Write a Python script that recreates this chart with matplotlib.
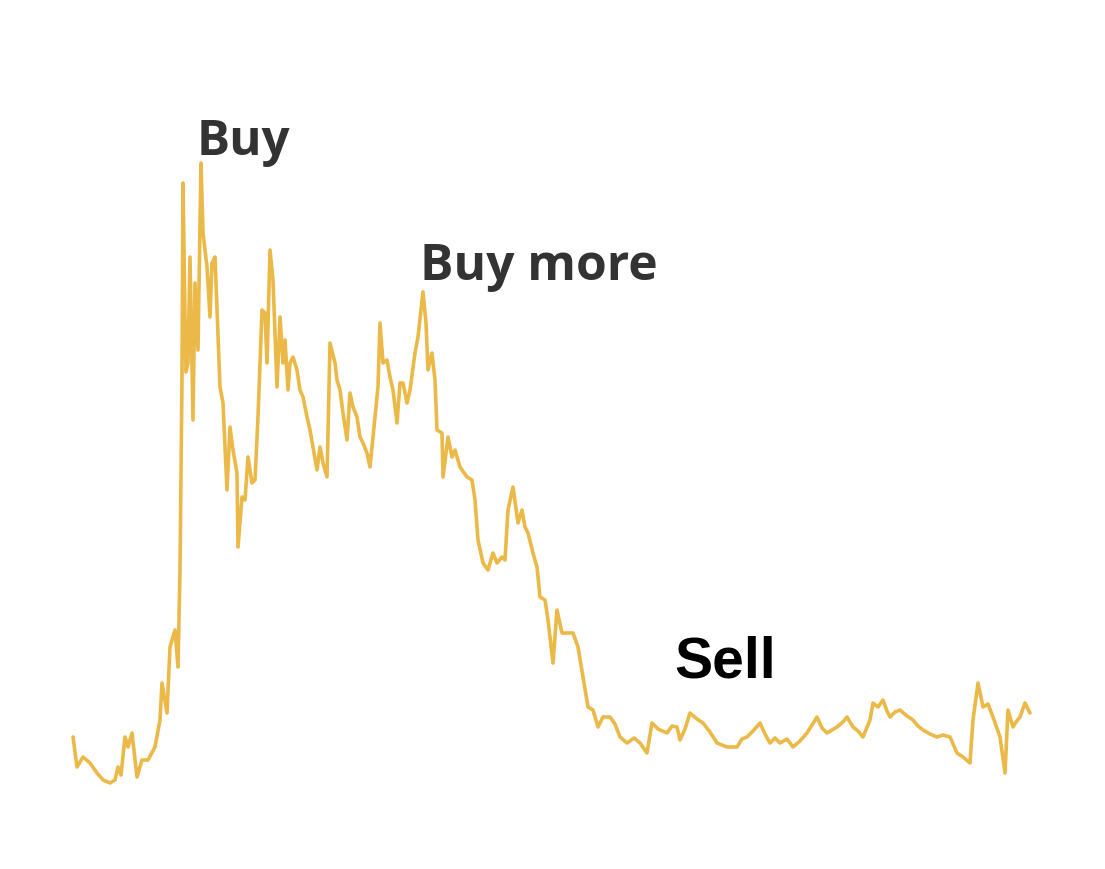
import matplotlib
matplotlib.use("Agg")
import matplotlib.pyplot as plt

# Trace of the price line (day position, price level)
days = [73, 77, 83, 90, 97, 103, 110, 115, 118, 121, 125, 128, 132, 137, 142, 148, 155, 160, 162, 167,
        170, 175, 178, 180, 182, 183, 185, 186, 188, 190, 193, 195, 198, 201, 203, 207, 210, 212, 215, 217,
        220, 223, 227, 230, 233, 237, 238, 242, 245, 248, 252, 255, 258, 262, 265, 267, 270, 273, 277, 280,
        283, 285, 288, 290, 293, 297, 300, 303, 307, 310, 313, 317, 320, 323, 327, 330, 335, 337, 340, 343,
        347, 350, 353, 357, 360, 363, 367, 370, 373, 378, 380, 383, 387, 390, 393, 397, 400, 403, 407, 410,
        415, 418, 423, 426, 428, 432, 435, 437, 442, 443, 448, 452, 455, 460, 467, 472, 475, 478, 483, 488,
        493, 497, 502, 505, 508, 513, 518, 522, 525, 528, 533, 537, 540, 545, 548, 553, 557, 562, 567, 573,
        578, 583, 588, 593, 598, 603, 610, 615, 620, 627, 634, 640, 647, 652, 658, 667, 672, 677, 680, 685,
        690, 697, 703, 710, 717, 727, 737, 742, 747, 753, 760, 765, 770, 775, 780, 787, 793, 800, 807, 812,
        817, 822, 827, 837, 843, 847, 853, 858, 863, 870, 873, 878, 883, 887, 890, 895, 900, 907, 913, 918,
        923, 930, 937, 943, 950, 957, 963, 970, 973, 978, 983, 988, 993, 1000, 1005, 1008, 1013, 1016, 1020,
        1025, 1030]
price = [132, 102, 112, 106, 96, 89, 86, 89, 102, 94, 132, 122, 136, 92, 109, 109, 122, 149, 186, 156,
         222, 239, 202, 299, 492, 686, 552, 497, 506, 612, 449, 586, 519, 706, 636, 602, 552, 606, 612, 559,
         482, 466, 379, 442, 419, 396, 322, 372, 369, 412, 386, 389, 452, 559, 556, 506, 619, 589, 482, 552,
         506, 529, 479, 506, 512, 499, 479, 472, 452, 439, 422, 399, 422, 406, 392, 526, 506, 489, 479, 456,
         429, 476, 462, 452, 432, 426, 416, 402, 432, 482, 546, 506, 509, 492, 479, 446, 486, 486, 466, 479,
         516, 532, 577, 546, 499, 516, 489, 439, 436, 392, 432, 412, 419, 402, 392, 389, 369, 329, 306, 299,
         316, 306, 312, 309, 359, 382, 346, 359, 342, 336, 316, 302, 272, 269, 249, 206, 259, 236, 236, 236,
         222, 192, 162, 159, 142, 152, 152, 145, 132, 126, 131, 126, 116, 146, 140, 136, 143, 142, 129, 140,
         156, 150, 146, 137, 126, 122, 122, 130, 132, 138, 146, 135, 126, 131, 126, 130, 122, 128, 136, 144,
         152, 141, 136, 142, 147, 152, 142, 138, 132, 149, 166, 162, 169, 158, 152, 157, 159, 153, 149, 143,
         139, 135, 132, 134, 132, 116, 112, 106, 149, 186, 162, 165, 152, 132, 96, 159, 142, 147, 152,
         166, 156]

labels = ["Buy", "Buy more", "Sell"]
label_days = [197, 420, 674]
label_levels = [714, 589, 191]

fig = plt.figure(figsize=(11.05, 8.69), dpi=100)
fig.patch.set_facecolor("white")
ax = fig.add_axes([0, 0, 1, 1])
ax.set_xlim(0, 1105)
ax.set_ylim(0, 869)
ax.axis("off")

ax.plot(days, price, color="#EBB948", linewidth=2.6, solid_joinstyle="round", solid_capstyle="round")

ax.text(label_days[0], label_levels[0], labels[0], family=["Open Sans", "DejaVu Sans"], fontweight="bold",
        fontsize=35.5, color="#333333", ha="left", va="baseline")
ax.text(label_days[1], label_levels[1], labels[1], family=["Open Sans", "DejaVu Sans"], fontweight="bold",
        fontsize=35.8, color="#333333", ha="left", va="baseline")
ax.text(label_days[2], label_levels[2], labels[2], family=["Liberation Sans", "DejaVu Sans"], fontweight="bold",
        fontsize=41, color="black", ha="left", va="baseline")

fig.savefig("out.png", dpi=100, facecolor="white")
